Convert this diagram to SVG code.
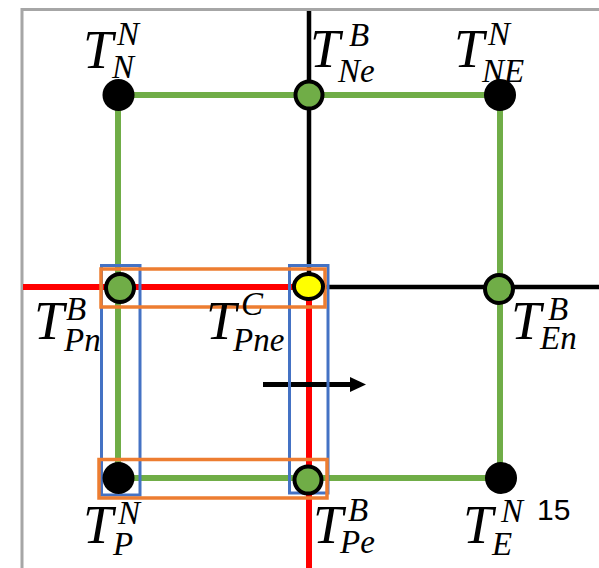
<svg xmlns="http://www.w3.org/2000/svg" width="599" height="568" viewBox="0 0 599 568">
  <style>
    .frame { stroke: #a6a6a6; stroke-width: 3; fill: none; }
    .green { stroke: #70ad47; stroke-width: 6; fill: none; }
    .black { stroke: #000; stroke-width: 4.5; fill: none; }
    .red { stroke: #ff0000; stroke-width: 6; fill: none; }
    .blue { stroke: #4472c4; stroke-width: 3; fill: none; }
    .orange { stroke: #ed7d31; stroke-width: 3.5; fill: none; }
    .corner { fill: #000; }
    .bnode { fill: #70ad47; stroke: #000; stroke-width: 4; }
    .cnode { fill: #ffff00; stroke: #000; stroke-width: 4; }
    .t { font-family: "Liberation Serif", "DejaVu Serif", serif; font-style: italic; font-size: 54px; fill: #000; }
    .s { font-family: "Liberation Serif", "DejaVu Serif", serif; font-style: italic; font-size: 33px; fill: #000; }
    .num { font-family: "Liberation Sans", Arial, sans-serif; font-size: 30px; fill: #000; }
  </style>

  <rect width="599" height="568" fill="#fff"/>

  <!-- outer frame -->
  <path class="frame" d="M22,568 V9.5 H599"/>

  <g id="connectors">
    <!-- coarse cell edges -->
    <line class="black" x1="309" y1="11" x2="309" y2="287"/>
    <line class="black" x1="309" y1="287" x2="599" y2="287"/>
    <line class="red" x1="23" y1="287" x2="309" y2="287"/>
    <line class="red" x1="309" y1="287" x2="309" y2="568"/>
    <!-- fine cell edges -->
    <line class="green" x1="118" y1="95" x2="500" y2="95"/>
    <line class="green" x1="118" y1="95" x2="118" y2="478"/>
    <line class="green" x1="500" y1="95" x2="500" y2="478"/>
    <line class="green" x1="118" y1="478" x2="500" y2="478"/>
    <!-- direction arrow -->
    <line x1="263" y1="384.5" x2="352" y2="384.5" stroke="#000" stroke-width="5"/>
    <polygon points="350,377 366,384.5 350,392" fill="#000"/>
  </g>

  <g id="stencils">
    <rect class="blue" x="101.5" y="265.5" width="38.5" height="229.5"/>
    <rect class="blue" x="289.5" y="265.5" width="38.5" height="227.5"/>
    <rect class="orange" x="101" y="269" width="224" height="38"/>
    <rect class="orange" x="99" y="459.5" width="228" height="38.5"/>
  </g>

  <g id="node-N">
    <circle class="corner" cx="118.5" cy="95" r="16"/>
    <text class="t" x="83" y="68">T</text>
    <text class="s" x="117" y="45">N</text>
    <text class="s" x="112" y="78">N</text>
  </g>

  <g id="node-Ne">
    <circle class="bnode" cx="309" cy="95" r="13.5"/>
    <text class="t" x="310" y="67">T</text>
    <text class="s" x="349" y="46">B</text>
    <text class="s" x="338" y="82">Ne</text>
  </g>

  <g id="node-NE">
    <circle class="corner" cx="500" cy="95" r="16"/>
    <text class="t" x="454" y="67">T</text>
    <text class="s" x="488" y="45">N</text>
    <text class="s" x="482" y="82">NE</text>
  </g>

  <g id="node-Pn">
    <circle class="bnode" cx="120" cy="288" r="14"/>
    <text class="t" x="34" y="339">T</text>
    <text class="s" x="66" y="320">B</text>
    <text class="s" x="64" y="351">Pn</text>
  </g>

  <g id="node-Pne">
    <ellipse class="cnode" cx="308.5" cy="286.5" rx="14.5" ry="12.5"/>
    <text class="t" x="206" y="339">T</text>
    <text class="s" x="241" y="315">C</text>
    <text class="s" x="233" y="351">Pne</text>
  </g>

  <g id="node-En">
    <circle class="bnode" cx="499" cy="289" r="14"/>
    <text class="t" x="511" y="339">T</text>
    <text class="s" x="548" y="320">B</text>
    <text class="s" x="540" y="349">En</text>
  </g>

  <g id="node-P">
    <circle class="corner" cx="118.5" cy="478" r="16"/>
    <text class="t" x="83" y="543">T</text>
    <text class="s" x="118" y="524">N</text>
    <text class="s" x="113" y="555">P</text>
  </g>

  <g id="node-Pe">
    <circle class="bnode" cx="308" cy="480" r="13.5"/>
    <text class="t" x="313" y="543">T</text>
    <text class="s" x="348" y="521">B</text>
    <text class="s" x="340" y="553">Pe</text>
  </g>

  <g id="node-E">
    <circle class="corner" cx="501" cy="478" r="16"/>
    <text class="t" x="463" y="543">T</text>
    <text class="s" x="501" y="522">N</text>
    <text class="s" x="492" y="555">E</text>
  </g>

  <text class="num" x="537" y="520">15</text>
</svg>
